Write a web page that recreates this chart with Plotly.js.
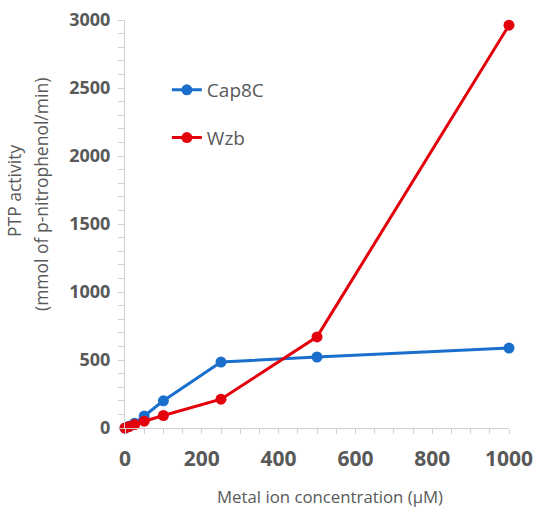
<!DOCTYPE html>
<html><head><meta charset="utf-8">
<script src="https://cdn.plot.ly/plotly-3.0.1.min.js"></script>
<style>body{margin:0;background:#fff}#c{width:550px;height:524px}</style>
</head><body><div id="c"></div>
<script>
const concentration = [0, 10, 25, 50, 100, 250, 500, 1000];
const cap8c = [0, 12, 35, 88, 200, 485, 522, 588];
const wzb = [0, 10, 25, 50, 92, 212, 670, 2962];
const seriesNames = ['Cap8C', 'Wzb'];
const yTitleLines = ['PTP activity', '(mmol of p-nitrophenol/min)'];
const xTitle = 'Metal ion concentration (µM)';

const font = "'Open Sans', sans-serif";
const traces = [
  {x: concentration, y: cap8c, name: seriesNames[0], legendgroup: 'a', type: 'scatter', mode: 'lines+markers',
   line: {color: '#1a6fcc', width: 3}, marker: {color: '#1a6fcc', size: 11}, cliponaxis: false},
  {x: concentration, y: wzb, name: seriesNames[1], legendgroup: 'b', type: 'scatter', mode: 'lines+markers',
   line: {color: '#e3000b', width: 3}, marker: {color: '#e3000b', size: 11}, cliponaxis: false}
];
const layout = {
  width: 550, height: 524,
  margin: {l: 125, r: 41, t: 20, b: 96},
  paper_bgcolor: '#fff', plot_bgcolor: '#fff',
  font: {family: font, color: '#595959'},
  showlegend: true,
  legend: {x: 0.109, y: 0.875, xanchor: 'left', yanchor: 'top', font: {size: 19, color: '#595959'},
           bgcolor: 'rgba(0,0,0,0)', traceorder: 'grouped', tracegroupgap: 20},
  xaxis: {
    range: [0, 1000], dtick: 200, tick0: 0, showgrid: false, zeroline: false,
    showline: true, linecolor: '#d0d0d0', linewidth: 1,
    ticks: 'outside', ticklen: 5, tickcolor: '#d0d0d0', ticklabelstandoff: 7,
    minor: {dtick: 50, ticks: 'outside', ticklen: 5, tickcolor: '#d0d0d0'},
    tickfont: {size: 21, family: font, color: '#595959', weight: 'bold'}
  },
  yaxis: {
    range: [0, 3000], dtick: 500, showgrid: false, zeroline: false,
    showline: true, linecolor: '#d0d0d0', linewidth: 1,
    ticks: 'outside', ticklen: 6, tickcolor: '#d0d0d0', ticklabelstandoff: 4,
    minor: {dtick: 100, ticks: 'outside', ticklen: 6, tickcolor: '#d0d0d0'},
    tickfont: {size: 18, family: font, color: '#595959', weight: 'bold'}
  },
  annotations: [
    {text: yTitleLines[0], xref: 'paper', yref: 'paper', x: (14 - 125) / 384, y: (428 - 191) / 408,
     xanchor: 'center', yanchor: 'middle', textangle: -90, showarrow: false,
     font: {size: 17.5, color: '#595959', family: font}},
    {text: yTitleLines[1], xref: 'paper', yref: 'paper', x: (41 - 125) / 384, y: (428 - 195) / 408,
     xanchor: 'center', yanchor: 'middle', textangle: -90, showarrow: false,
     font: {size: 17.5, color: '#595959', family: font}},
    {text: xTitle, xref: 'paper', yref: 'paper', x: (330 - 125) / 384, y: (428 - 496) / 408,
     xanchor: 'center', yanchor: 'middle', showarrow: false,
     font: {size: 16.8, color: '#595959', family: font}}
  ]
};
Plotly.newPlot('c', traces, layout, {displayModeBar: false, staticPlot: true});
</script></body></html>
